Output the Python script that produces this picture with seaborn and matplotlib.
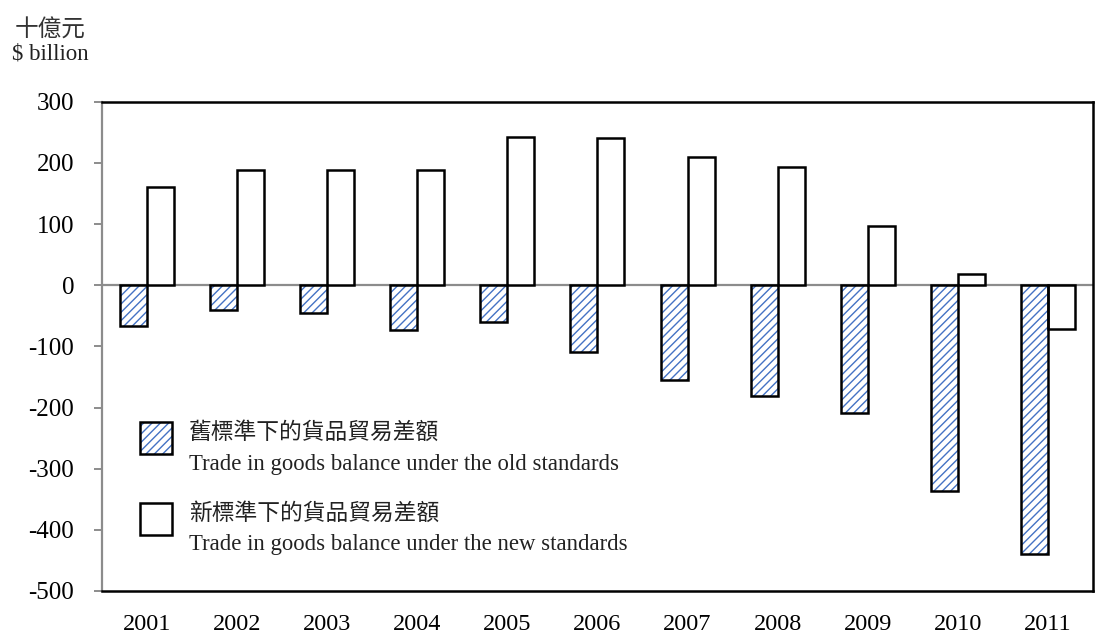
import numpy as np
import pandas as pd
import seaborn as sns
import matplotlib as mpl
import matplotlib.pyplot as plt
from matplotlib.patches import Rectangle, Patch
from matplotlib.legend_handler import HandlerPatch

sns.set_theme(style="white")
plt.rcParams['font.family'] = ['Liberation Serif', 'Noto Sans CJK TC', 'DejaVu Sans']
mpl.rcParams['axes.unicode_minus'] = False
plt.rcParams['hatch.linewidth'] = 1.0

# data
years = ['2001', '2002', '2003', '2004', '2005', '2006', '2007', '2008', '2009', '2010', '2011']
old_balance = [-66, -41, -46, -73, -61, -110, -155, -181, -209, -336, -440]
new_balance = [161, 189, 189, 189, 242, 240, 210, 194, 97, 18, -72]
old_label = '舊標準下的貨品貿易差額\nTrade in goods balance under the old standards'
new_label = '新標準下的貨品貿易差額\nTrade in goods balance under the new standards'
y_ticks = [-500, -400, -300, -200, -100, 0, 100, 200, 300]

df = pd.DataFrame({
    'year': years * 2,
    'value': old_balance + new_balance,
    'series': [old_label] * len(years) + [new_label] * len(years),
})

hatch_blue = '#4472C4'
hatch = '////'


class RaisedPatch(HandlerPatch):
    # legend key sits a bit above the middle of its two-line label
    def create_artists(self, legend, orig_handle, xdescent, ydescent, width, height, fontsize, trans):
        return super().create_artists(legend, orig_handle, xdescent, ydescent - 8.0,
                                      width, height, fontsize, trans)


fig = plt.figure(figsize=(11, 6.33), dpi=100)
ax = fig.add_axes([0.0927, 0.0664, 0.9009, 0.7729])

sns.barplot(data=df, x='year', y='value', hue='series', hue_order=[old_label, new_label],
            palette=['white', 'white'], width=0.6, edgecolor='black', linewidth=1.8,
            legend=False, ax=ax, zorder=3)

# old series: blue hatch, then black outline on top
for bar in ax.containers[0]:
    bar.set_hatch(hatch)
    bar.set_edgecolor(hatch_blue)
    bar.set_linewidth(0)
    ax.add_patch(Rectangle(bar.get_xy(), bar.get_width(), bar.get_height(),
                           fill=False, edgecolor='black', linewidth=1.8, zorder=4))

ax.axhline(0, color='#8c8c8c', linewidth=1.6, zorder=2)

ax.set_ylim(-500, 300)
ax.set_xlim(-0.5, len(years) - 0.5)
ax.set_yticks(y_ticks)
ax.set_yticklabels([str(v) for v in y_ticks])
ax.set_xlabel('')
ax.set_ylabel('')

for side in ['top', 'right', 'bottom']:
    ax.spines[side].set_color('black')
    ax.spines[side].set_linewidth(1.8)
ax.spines['left'].set_color('#8c8c8c')
ax.spines['left'].set_linewidth(1.6)

ax.tick_params(axis='y', left=True, direction='out', length=6, width=1.4, color='#8c8c8c',
               labelsize=18, pad=14, labelcolor='black')
ax.tick_params(axis='x', bottom=False, labelsize=17.5, pad=10.5, labelcolor='black')

# unit label
fig.text(0.046, 0.951, '十億元', ha='center', va='center', fontsize=17, color='#333333')
fig.text(0.046, 0.915, '$ billion', ha='center', va='center', fontsize=16.5, color='#222222')

old_key = (Patch(facecolor='white', edgecolor=hatch_blue, hatch=hatch, linewidth=0),
           Patch(facecolor='none', edgecolor='black', linewidth=1.8))
new_key = Patch(facecolor='white', edgecolor='black', linewidth=1.8)
leg = ax.legend([old_key, new_key], [old_label, new_label], loc='upper left',
                bbox_to_anchor=(0.038, 0.345), frameon=False, fontsize=16.4,
                handlelength=1.4, handleheight=1.8, handletextpad=0.75,
                labelspacing=1.25, borderaxespad=0, borderpad=0,
                handler_map={Patch: RaisedPatch()})
for t in leg.get_texts():
    t.set_linespacing(1.6)
    t.set_color('#222222')

fig.savefig('out.png', dpi=100)
